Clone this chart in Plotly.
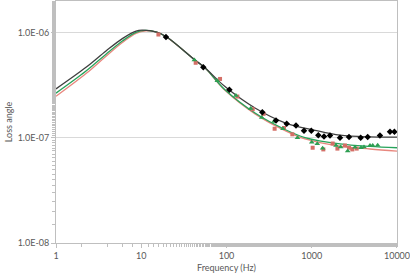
import plotly.graph_objects as go

# Measured data points
black_f = [19.5, 53.5, 108, 263, 381, 508, 654, 811, 988, 1194, 1393, 1637, 2144, 2734, 3750, 4530, 6310, 8280, 9330]
black_L = [9.1e-7, 4.7e-7, 2.86e-7, 1.75e-7, 1.46e-7, 1.36e-7, 1.31e-7, 1.17e-7, 1.17e-7, 1.06e-7, 1.03e-7,
           1.05e-7, 1.0e-7, 1.02e-7, 1.0e-7, 1.02e-7, 1.05e-7, 1.14e-7, 1.14e-7]

red_f = [15.9, 43.5, 84, 134, 203, 272, 367, 473, 592, 1025, 1367, 1760, 2000, 2455, 2735, 2993, 3367]
red_L = [9.6e-7, 5.17e-7, 3.63e-7, 2.47e-7, 1.87e-7, 1.69e-7, 1.22e-7, 1.24e-7, 1.08e-7, 8.05e-8, 7.76e-8,
         8.83e-8, 7.9e-8, 8.45e-8, 8.05e-8, 7.76e-8, 7.9e-8]

green_f = [42, 78, 129, 192, 259, 360, 460, 680, 1000, 1161, 1343, 1925, 2186, 2640, 3216, 3782, 4100, 4820, 5190, 5935]
green_L = [5.5e-7, 3.49e-7, 2.52e-7, 1.9e-7, 1.56e-7, 1.43e-7, 1.22e-7, 1.0e-7, 9.1e-8, 8.8e-8, 7.94e-8,
           8.45e-8, 8.2e-8, 7.48e-8, 8.15e-8, 8.05e-8, 8.2e-8, 8.45e-8, 8.45e-8, 8.5e-8]

# Fitted curves
black_fit_f = [1, 2.25, 3.86, 6.06, 8.68, 10.2, 15.2, 19.9, 42.7, 55.9, 96, 216, 486, 1092, 2145, 4825, 10000]
black_fit_L = [2.92e-7, 4.68e-7, 6.70e-7, 8.83e-7, 1.035e-6, 1.056e-6, 1.013e-6, 9.09e-7, 5.49e-7, 4.64e-7,
               3.07e-7, 1.92e-7, 1.39e-7, 1.18e-7, 1.06e-7, 1.02e-7, 1.014e-7]

green_fit_f = [1, 2.25, 3.86, 6.06, 8.68, 11.1, 15.2, 19.9, 42.7, 55.9, 96, 216, 486, 833, 2145, 4825, 10000]
green_fit_L = [2.66e-7, 4.31e-7, 6.24e-7, 8.37e-7, 1.007e-6, 1.05e-6, 1.013e-6, 9.09e-7, 5.49e-7, 4.64e-7,
               2.86e-7, 1.72e-7, 1.20e-7, 1.007e-7, 8.75e-8, 8.28e-8, 8.05e-8]

red_fit_f = [1, 2.25, 3.86, 6.06, 8.68, 11.4, 15.2, 19.9, 42.7, 55.9, 96, 216, 486, 833, 2145, 4825, 10000]
red_fit_L = [2.48e-7, 4.08e-7, 5.97e-7, 8.1e-7, 9.85e-7, 1.04e-6, 1.01e-6, 9.07e-7, 5.48e-7, 4.63e-7,
             2.83e-7, 1.69e-7, 1.17e-7, 9.75e-8, 8.34e-8, 7.83e-8, 7.48e-8]

x_tick_vals = [1, 10, 100, 1000, 10000]
x_tick_text = ["1", "10", "100", "1000", "10000"]
y_tick_vals = [1e-8, 1e-7, 1e-6]
y_tick_text = ["1.0E-08", "1.0E-07", "1.0E-06"]

fig = go.Figure()

fig.add_trace(go.Scatter(x=red_fit_f, y=red_fit_L, mode="lines", line=dict(color="#e8877e", width=1.3, shape="spline"),
                         showlegend=False, hoverinfo="skip"))
fig.add_trace(go.Scatter(x=green_fit_f, y=green_fit_L, mode="lines", line=dict(color="#27a35a", width=1.3, shape="spline"),
                         showlegend=False, hoverinfo="skip"))
fig.add_trace(go.Scatter(x=black_fit_f, y=black_fit_L, mode="lines", line=dict(color="#404040", width=1.3, shape="spline"),
                         showlegend=False, hoverinfo="skip"))

fig.add_trace(go.Scatter(x=red_f, y=red_L, mode="markers",
                         marker=dict(symbol="square", size=4, color="#d46f67"), showlegend=False))
fig.add_trace(go.Scatter(x=green_f, y=green_L, mode="markers",
                         marker=dict(symbol="triangle-up", size=5, color="#2e9e52"), showlegend=False))
fig.add_trace(go.Scatter(x=black_f, y=black_L, mode="markers",
                         marker=dict(symbol="diamond", size=5, color="#000000"), showlegend=False))

font = dict(family="Lato, Carlito, Liberation Sans, sans-serif", size=9, color="#595959")

fig.update_layout(
    width=410, height=275,
    margin=dict(l=56, r=13, t=1, b=32, autoexpand=False),
    paper_bgcolor="white", plot_bgcolor="white",
    font=font,
    xaxis=dict(
        type="log", range=[0, 4.0001],
        tickvals=x_tick_vals, ticktext=x_tick_text,
        ticklabeloverflow="allow",
        showgrid=False, zeroline=False,
        showline=True, linecolor="#bfbfbf", linewidth=1, mirror=True,
        ticks="outside", ticklen=4, tickcolor="#bfbfbf",
        minor=dict(ticks="outside", ticklen=3, tickcolor="#bfbfbf", showgrid=False),
        title=dict(text="Frequency (Hz)", font=font, standoff=4),
    ),
    yaxis=dict(
        type="log", range=[-8, -5.699],
        tickvals=y_tick_vals, ticktext=y_tick_text,
        showgrid=True, gridcolor="#d9d9d9", gridwidth=1, zeroline=False,
        showline=True, linecolor="#bfbfbf", linewidth=1, mirror=True,
        ticks="outside", ticklen=4, tickcolor="#bfbfbf",
        minor=dict(ticks="outside", ticklen=3, tickcolor="#bfbfbf", showgrid=False),
        title=dict(text="Loss angle", font=font, standoff=3),
    ),
)

fig.write_html("out.html",
               config={"displayModeBar": False},
               post_script="document.body.style.margin='0';document.body.style.padding='0';"
                           "document.body.style.overflow='hidden';")
